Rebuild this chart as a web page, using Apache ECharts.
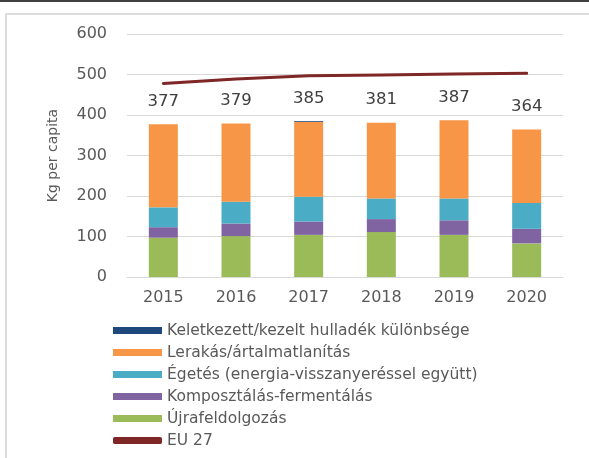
<!DOCTYPE html>
<html><head><meta charset="utf-8">
<script src="https://cdn.jsdelivr.net/npm/echarts@6/dist/echarts.min.js"></script>
<style>html,body{margin:0;padding:0;background:#fff}#c{width:589px;height:458px}</style>
</head><body><div id="c"></div>
<script>
var years = ['2015','2016','2017','2018','2019','2020'];
var ujrafeldolgozas = [97, 101, 104, 111, 104, 83];
var komposztalas = [26, 31, 33, 32, 36, 36];
var egetes = [49, 54, 61, 51, 54, 64];
var lerakas = [205, 193, 185, 187, 193, 181];
var kulonbseg = [0, 0, 2, 0, 0, 0];
var totals = [377, 379, 385, 381, 387, 364];
var eu27 = [478, 489, 497, 499, 501, 503];
var yTicks = [0, 100, 200, 300, 400, 500, 600];

var names = {
  k: 'Keletkezett/kezelt hulladék különbsége',
  l: 'Lerakás/ártalmatlanítás',
  e: 'Égetés (energia-visszanyeréssel együtt)',
  p: 'Komposztálás-fermentálás',
  u: 'Újrafeldolgozás',
  eu: 'EU 27'
};
var FONT = 'DejaVu Sans';
var chart = echarts.init(document.getElementById('c'), null, {renderer: 'canvas'});
function bar(name, data, color, extra) {
  var s = {name: name, type: 'bar', stack: 'a', data: data, barWidth: 29,
    itemStyle: {color: color}, emphasis: {disabled: true}, animation: false};
  if (extra) for (var k in extra) s[k] = extra[k];
  return s;
}
chart.setOption({
  animation: false,
  textStyle: {fontFamily: FONT},
  graphic: [
    {type: 'line', shape: {x1: 0, y1: 1, x2: 589, y2: 1}, style: {stroke: '#000', lineWidth: 1.5}, silent: true},
    {type: 'rect', shape: {x: 6, y: 14, width: 700, height: 600}, style: {fill: 'none', stroke: '#dcdcdc', lineWidth: 2}, silent: true}
  ],
  grid: {left: 127, right: 26, top: 34, bottom: 181},
  legend: {
    orient: 'vertical', left: 113, top: 322, padding: 0,
    itemWidth: 49, itemHeight: 7, itemGap: 5,
    textStyle: {fontFamily: FONT, fontSize: 15.5, color: '#595959', lineHeight: 17},
    data: [
      {name: names.k, icon: 'rect'},
      {name: names.l, icon: 'rect'},
      {name: names.e, icon: 'rect'},
      {name: names.p, icon: 'rect'},
      {name: names.u, icon: 'rect'},
      {name: names.eu, icon: 'roundRect', itemStyle: {color: '#7F2626'}}
    ],
    selectedMode: false
  },
  xAxis: {
    type: 'category', data: years,
    axisLine: {lineStyle: {color: '#d9d9d9', width: 1}},
    axisTick: {show: false},
    axisLabel: {fontFamily: FONT, fontSize: 16, color: '#595959', margin: 13}
  },
  yAxis: {
    type: 'value', min: yTicks[0], max: yTicks[yTicks.length - 1], interval: 100,
    name: 'Kg per capita', nameLocation: 'middle', nameGap: 67,
    nameTextStyle: {fontFamily: FONT, fontSize: 14, color: '#595959'},
    axisLine: {show: false}, axisTick: {show: false},
    axisLabel: {fontFamily: FONT, fontSize: 16, color: '#595959', margin: 20},
    splitLine: {lineStyle: {color: '#d9d9d9', width: 1}}
  },
  series: [
    bar(names.u, ujrafeldolgozas, '#9BBB59'),
    bar(names.p, komposztalas, '#8064A2'),
    bar(names.e, egetes, '#4BACC6'),
    bar(names.l, lerakas, '#F79646'),
    bar(names.k, kulonbseg, '#1F497D', {
      label: {show: true, position: 'top', distance: 14, fontFamily: FONT, fontSize: 16.5, color: '#404040',
        formatter: function (p) { return String(totals[p.dataIndex]); }}
    }),
    {name: names.eu, type: 'line', data: eu27, showSymbol: false, symbol: 'none',
      lineStyle: {color: '#7F2626', width: 3, cap: 'round'}, itemStyle: {color: '#7F2626'},
      emphasis: {disabled: true}, z: 5}
  ]
});
</script></body></html>
